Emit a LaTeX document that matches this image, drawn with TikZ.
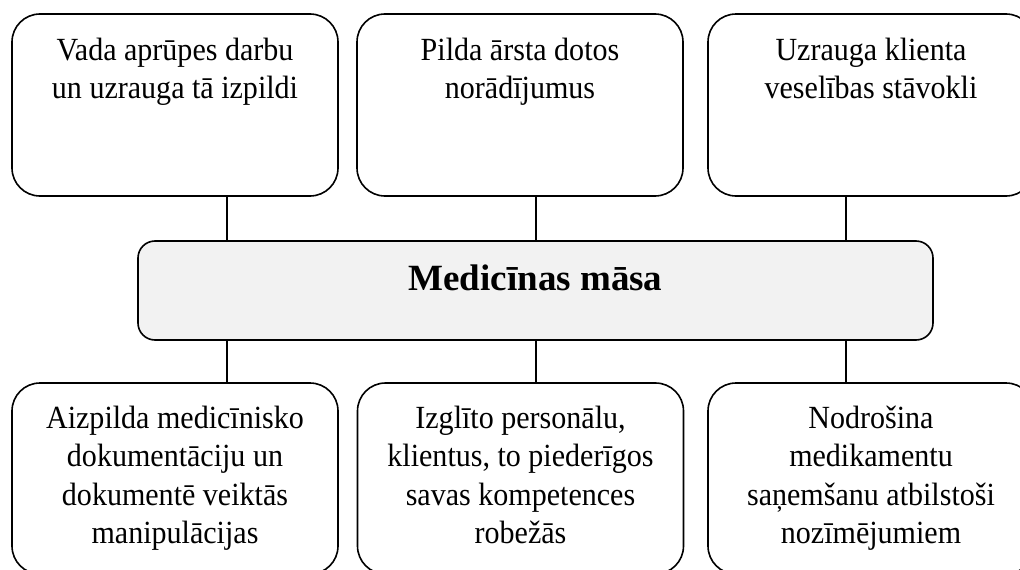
\documentclass[tikz,border=0pt]{standalone}
\usepackage{fontspec}
\setmainfont{Liberation Serif}
\newfontfamily\tallfont[FakeStretch=0.93]{Liberation Serif}
\definecolor{midfill}{RGB}{242,242,242}
\tikzset{
  box/.style={draw=black, line width=1.6pt, rounded corners=28pt, minimum width=326pt, inner sep=0pt},
  midbox/.style={draw=black, line width=1.6pt, rounded corners=17pt, fill=midfill, minimum width=795pt, minimum height=99pt, inner sep=0pt},
  txt/.style={align=center, inner sep=0pt, font=\tallfont\fontsize{32.3}{38.3}\selectfont},
  conn/.style={draw=black, line width=1.5pt}
}
\begin{document}
\begin{tikzpicture}[x=1pt, y=-1pt]
\useasboundingbox (0,0) rectangle (1020,570);
\clip (0,0) rectangle (1020,570);
% top boxes
\node[box, minimum height=182pt] (tl) at (175,105) {};
\node[box, minimum height=182pt] (tm) at (520,105) {};
\node[box, minimum height=182pt] (tr) at (871,105) {};
% middle box
\node[midbox] (mid) at (535.5,290.5) {};
% bottom boxes
\node[box, minimum height=191pt] (bl) at (175,478.5) {};
\node[box, minimum height=191pt] (bm) at (520.5,478.5) {};
\node[box, minimum height=191pt] (br) at (871,478.5) {};
% texts
\node[txt, anchor=north] (tlt) at (tl.north |- 0,38) {Vada aprūpes darbu\\un uzrauga tā izpildi};
\node[txt, anchor=north] (tmt) at (tm.north |- 0,38) {Pilda ārsta dotos\\norādījumus};
\node[txt, anchor=north] (trt) at (tr.north |- 0,38) {Uzrauga klienta\\veselības stāvokli};
\node[anchor=base, inner sep=0pt, font=\fontsize{37}{44}\selectfont\bfseries] (title) at (mid.center |- 0,290) {Medicīnas māsa};
\node[txt, anchor=north] (blt) at (bl.north |- 0,406) {Aizpilda medicīnisko\\dokumentāciju un\\dokumentē veiktās\\manipulācijas};
\node[txt, anchor=north] (bmt) at (bm.north |- 0,406) {Izglīto personālu,\\klientus, to piederīgos\\savas kompetences\\robežās};
\node[txt, anchor=north] (brt) at (br.north |- 0,406) {Nodrošina\\medikamentu\\saņemšanu atbilstoši\\nozīmējumiem};
% connectors
\draw[conn] ([xshift=52pt]tl.south) -- ([xshift=52pt]tl.south |- mid.north);
\draw[conn] ([xshift=16pt]tm.south) -- ([xshift=16pt]tm.south |- mid.north);
\draw[conn] ([xshift=-25pt]tr.south) -- ([xshift=-25pt]tr.south |- mid.north);
\draw[conn] ([xshift=52pt]bl.north) -- ([xshift=52pt]bl.north |- mid.south);
\draw[conn] ([xshift=15.5pt]bm.north) -- ([xshift=15.5pt]bm.north |- mid.south);
\draw[conn] ([xshift=-25pt]br.north) -- ([xshift=-25pt]br.north |- mid.south);
\end{tikzpicture}
\end{document}
